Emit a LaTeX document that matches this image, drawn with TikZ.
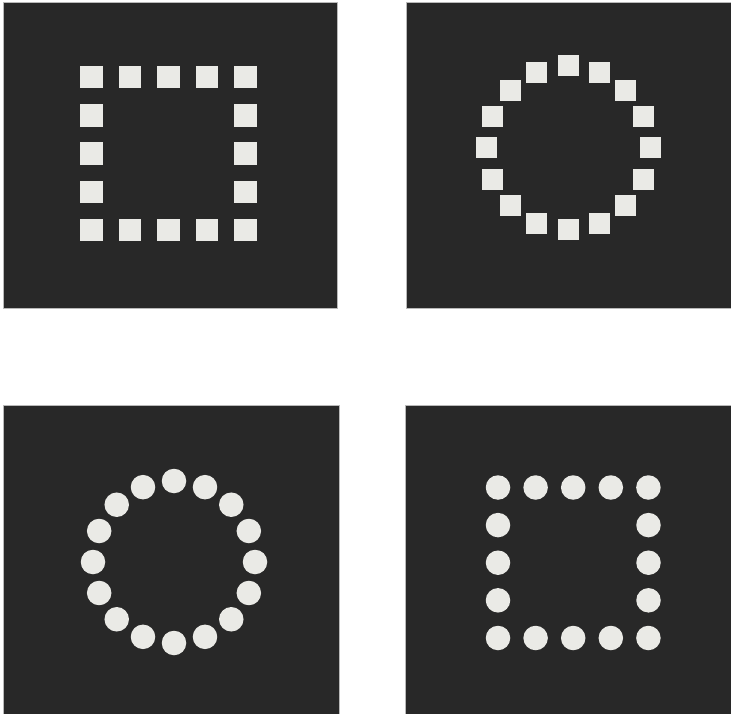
\documentclass[tikz,border=0pt]{standalone}
\usetikzlibrary{positioning}
\definecolor{boardgray}{RGB}{40,40,40}
\definecolor{chipwhite}{RGB}{234,234,230}

\begin{document}
\begin{tikzpicture}[x=1pt, y=-1pt,
  board/.style = {fill=boardgray, draw=gray!55, line width=0.6pt},
  sqchip/.style = {fill=chipwhite, minimum size=22.5pt, inner sep=0pt},
  rdchip/.style = {circle, fill=chipwhite, minimum size=24.5pt, inner sep=0pt}
]
  \useasboundingbox (0,0) rectangle (731,714);

  % Boards
  \fill[board] (3,2) rectangle (337,308);
  \fill[board] (406,2) rectangle (731,308);
  \fill[board] (3,405) rectangle (339,714);
  \fill[board] (405,405) rectangle (731,714);

  % Top left: squares on a square
  \foreach \i in {0,...,4} {
    \node[sqchip] (sqtop\i) at ({91.5+38.5*\i},77) {};
    \node[sqchip] (sqbot\i) at ({91.5+38.5*\i},230) {};
  }
  \foreach \j in {1,2,3} {
    \node[sqchip] (sqleft\j) at (91.5,{77+38.3*\j}) {};
    \node[sqchip] (sqright\j) at (245.5,{77+38.3*\j}) {};
  }

  % Top right: squares on a circle
  \foreach \k in {0,...,15}
    \node[sqchip, minimum size=21pt] (sqring\k) at ({568+82*cos(90+22.5*\k)},{148-82*sin(90+22.5*\k)}) {};

  % Bottom left: dots on a circle
  \foreach \k in {0,...,15}
    \node[rdchip] (rdring\k) at ({174+81*cos(90+22.5*\k)},{562-81*sin(90+22.5*\k)}) {};

  % Bottom right: dots on a square
  \foreach \i in {0,...,4} {
    \node[rdchip] (rdtop\i) at ({498+37.6*\i},487.5) {};
    \node[rdchip] (rdbot\i) at ({498+37.6*\i},638) {};
  }
  \foreach \j in {1,2,3} {
    \node[rdchip] (rdleft\j) at (498,{487.5+37.6*\j}) {};
    \node[rdchip] (rdright\j) at (648.5,{487.5+37.6*\j}) {};
  }

\end{tikzpicture}
\end{document}
